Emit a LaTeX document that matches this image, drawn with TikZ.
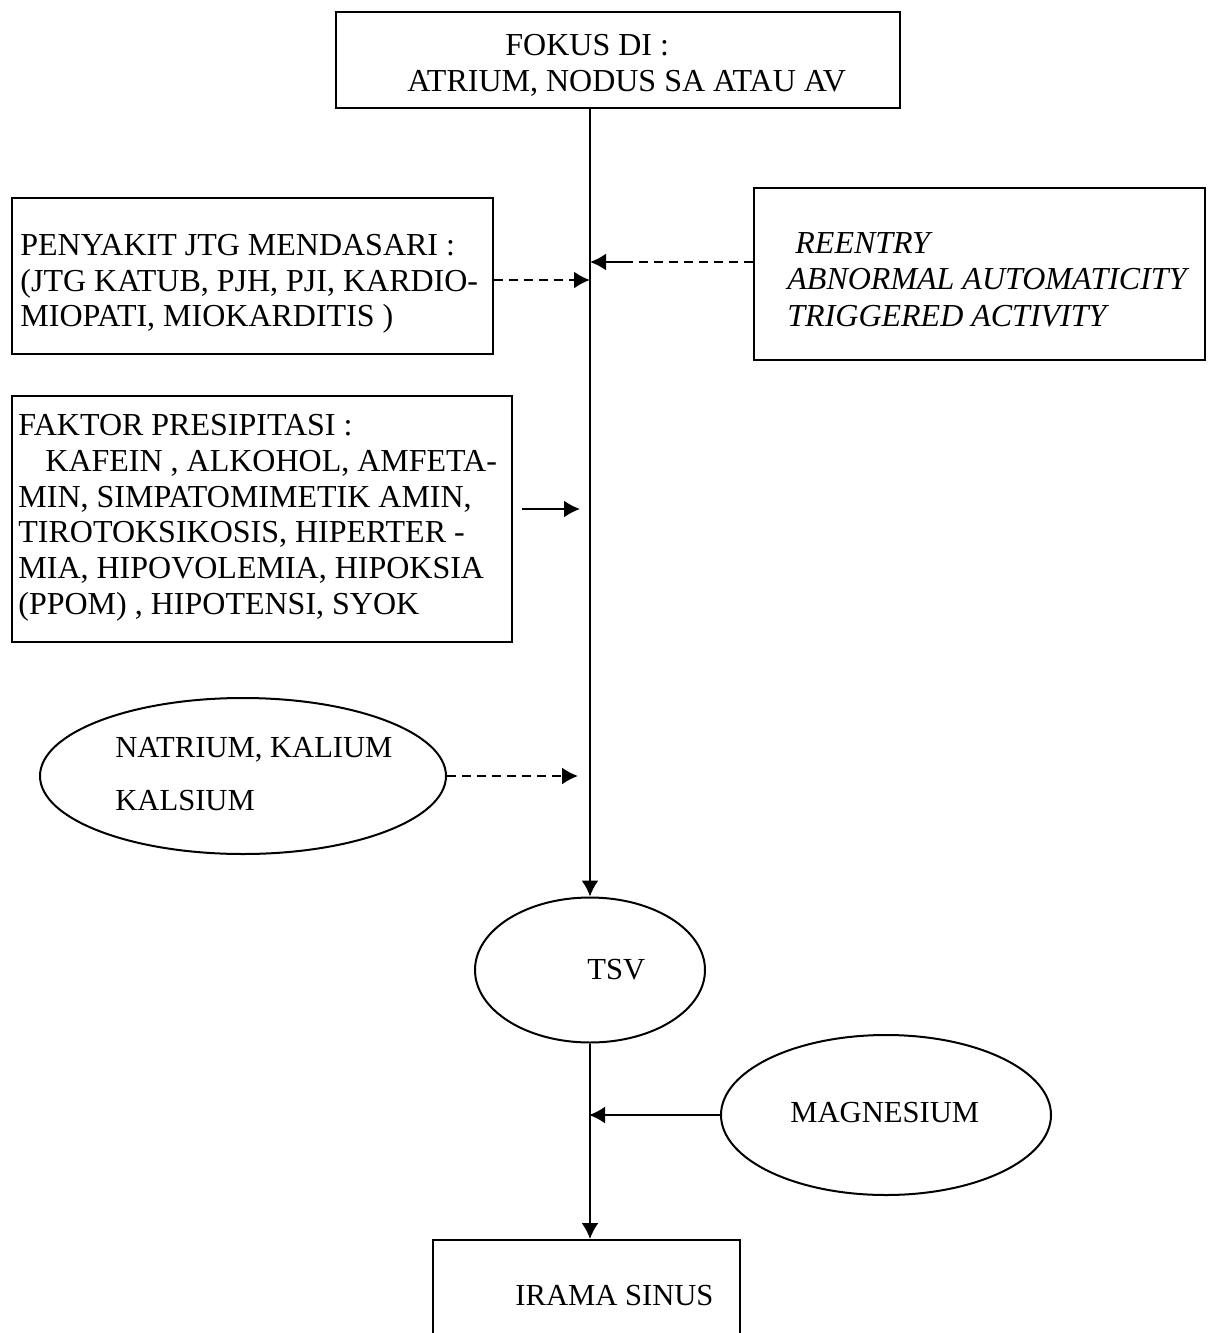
\documentclass[tikz,border=0pt]{standalone}
\usepackage{fontspec}
\setmainfont{Liberation Serif}
\usetikzlibrary{shapes.geometric,arrows.meta}
\tikzset{
  box/.style={draw, rectangle, line width=1pt, inner sep=0pt},
  ell/.style={draw, ellipse, line width=1pt, inner sep=0pt},
  txt/.style={inner sep=0pt, align=left, font=\fontsize{16pt}{17.75pt}\selectfont},
  stxt/.style={inner sep=0pt, align=left, font=\fontsize{15.3pt}{17.75pt}\selectfont},
  arr/.style={line width=1pt, -{Latex[length=8pt,width=8.5pt]}},
  plain/.style={line width=1pt},
  dsh/.style={dash pattern=on 4.5pt off 3pt}
}
\begin{document}
\begin{tikzpicture}[x=0.5pt,y=-0.5pt]
\clip (0,0) rectangle (1207,1333);
\fill[white] (0,0) rectangle (1207,1333);

% boxes and ellipses
\node[box, minimum width=282pt, minimum height=48pt] (fokus) at (618,60) {};
\node[box, minimum width=240.5pt, minimum height=78pt] (pen) at (252.5,276) {};
\node[box, minimum width=225.5pt, minimum height=86pt] (reent) at (979.5,274) {};
\node[box, minimum width=250pt, minimum height=123pt] (fakt) at (262,519) {};
\node[ell, minimum width=203pt, minimum height=78pt] (natr) at (243,776) {};
\node[ell, minimum width=115pt, minimum height=72.5pt] (tsv) at (590,970) {};
\node[ell, minimum width=165pt, minimum height=80pt] (magn) at (886,1115) {};
\node[box, minimum width=153.5pt, minimum height=52.5pt] (irama) at (586.5,1292.5) {};

% texts
\node[txt, anchor=north west] (fokust) at (407,34) {\hspace*{49pt}FOKUS DI :\\ATRIUM, NODUS SA ATAU AV};
\node[txt, anchor=north west] (pent) at (20,234) {PENYAKIT JTG MENDASARI :\\(JTG KATUB, PJH, PJI, KARDIO-\\MIOPATI, MIOKARDITIS )};
\node[txt, anchor=north west, font=\fontsize{16pt}{18.25pt}\selectfont\itshape] (reentt) at (787,232) {\hspace*{4pt}REENTRY\\ABNORMAL AUTOMATICITY\\TRIGGERED ACTIVITY};
\node[txt, anchor=north west, font=\fontsize{16pt}{17.9pt}\selectfont] (faktt) at (18,414) {FAKTOR PRESIPITASI :\\\hspace*{13.5pt}KAFEIN , ALKOHOL, AMFETA-\\MIN, SIMPATOMIMETIK AMIN,\\TIROTOKSIKOSIS, HIPERTER -\\MIA, HIPOVOLEMIA, HIPOKSIA\\(PPOM) , HIPOTENSI, SYOK};
\node[stxt, anchor=north west] (natrt) at (115,737) {NATRIUM, KALIUM\\[8.75pt]KALSIUM};
\node[stxt, anchor=west] (tsvt) at (587,970) {TSV};
\node[stxt, anchor=west] (magnt) at (790,1113) {MAGNESIUM};
\node[stxt, anchor=west] (iramat) at (515,1296) {IRAMA SINUS};

% junction points on the main line
\coordinate (j1) at (590,280);
\coordinate (j2) at (590,262);
\coordinate (k2) at (628,262);
\coordinate (s3) at (522,509);
\coordinate (j3) at (580,509);
\coordinate (j4) at (578,776);
\coordinate (j5) at (589,1115);

% main flow
\draw[arr] (fokus.south -| tsv.north) -- (tsv.north);
\draw[arr] (tsv.south) -- (tsv.south |- irama.north);

% side arrows
\draw[arr, dsh] (pen.east |- j1) -- (j1);
\draw[plain, dsh] (reent.west |- j2) -- (k2);
\draw[arr] (k2) -- (j2);
\draw[arr] (s3) -- (j3);
\draw[arr, dsh] (natr.east) -- (j4);
\draw[arr] (magn.west) -- (j5);
\end{tikzpicture}
\end{document}
